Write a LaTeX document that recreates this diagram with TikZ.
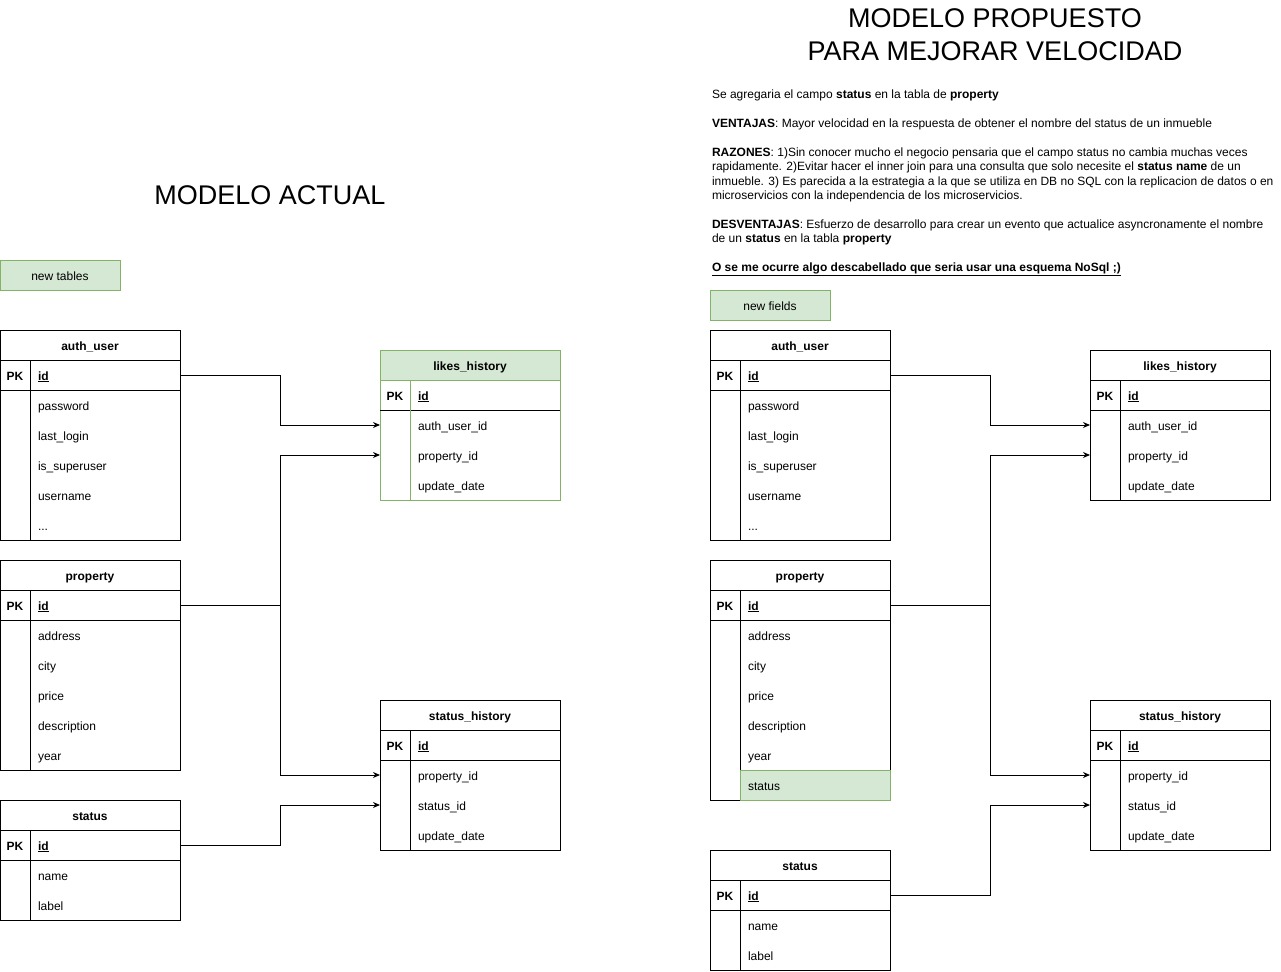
\documentclass[tikz,border=0pt]{standalone}
\usepackage{fontspec}
\setmainfont{Liberation Sans}
\usepackage{xcolor}
\usepackage{tikz}
\usetikzlibrary{positioning, arrows.meta, calc}
\definecolor{palegreen}{HTML}{D5E8D4}
\definecolor{sagegreen}{HTML}{82B366}
\newcommand{\erfont}{\fontsize{12}{14.4}\selectfont}
% table: [style]{name}{x}{y}{title}{fields}
\newcommand{\ertable}[6][]{%
  \begin{scope}[#1]
  \node[tablehead] (#2) at (#3,#4) {#5};
  \node[pkcell] (#2-pk) at (#2.south west) {PK};
  \node[fieldcell] (#2-id) at (#2-pk.north east) {\textbf{\underline{id}}};
  \foreach \f [count=\i] in {#6} {
    \node[fieldcell, #2-\i/.try] (#2-\i) at (#3+30,#4+30+30*\i) {\f};
    \xdef\lastrow{\i}
  }
  \draw[tableframe] (#2.north west) rectangle (#2-\lastrow.south east);
  \draw[tableframe] (#2.south west) -- (#2.south east);
  \draw (#2-pk.south west) -- (#2-id.south east);
  \draw[tableframe] (#2-pk.north east) -- (#2-\lastrow.south west);
  \end{scope}}

\begin{document}
\begin{tikzpicture}[x=1pt, y=-1pt, line width=1pt,
  every node/.style={outer sep=0pt, font=\erfont},
  tablehead/.style={anchor=north west, minimum width=180pt, minimum height=30pt, inner sep=0pt, text height=11pt, text depth=1pt, font=\erfont\bfseries},
  pkcell/.style={anchor=north west, minimum width=30pt, minimum height=30pt, inner sep=0pt, text height=11pt, text depth=1pt, font=\erfont\bfseries},
  fieldcell/.style={anchor=north west, minimum height=30pt, text width=134pt, inner xsep=8pt, inner ysep=0pt, align=left, text height=11pt, text depth=1pt},
  tableframe/.style={draw=black},
  newtable/.style={tablehead/.append style={fill=palegreen}, tableframe/.append style={draw=sagegreen}},
  newbox/.style={draw=sagegreen, fill=palegreen, minimum width=120pt, minimum height=30pt, anchor=north west, inner sep=0pt, text height=11pt, text depth=1pt},
  fk/.style={-{Stealth[length=7pt, width=6pt]}},
  title/.style={font=\fontsize{27}{33}\selectfont},
  propB-6/.style={fill=palegreen}]
\useasboundingbox (0,0) rectangle (1281,971);

% modelo actual
\node[title] (actual) at (270,195) {MODELO ACTUAL};
\node[newbox] (newtables) at (0,260) {new tables};

\ertable{au}{0}{330}{auth\_user}{password, last\_login, is\_superuser, username, ..{}.}
\ertable{prop}{0}{560}{property}{address, city, price, description, year}
\ertable{stat}{0}{800}{status}{name, label}
\ertable[newtable]{likes}{380}{350}{likes\_history}{auth\_user\_id, property\_id, update\_date}
\ertable{hist}{380}{700}{status\_history}{property\_id, status\_id, update\_date}

\draw[fk] (au-id.east) -- ++(100,0) |- (likes-1.west -| likes.west);
\draw[fk] (prop-id.east) -- ++(100,0) |- (likes-2.west -| likes.west);
\draw[fk] (prop-id.east) -- ++(100,0) |- (hist-1.west -| hist.west);
\draw[fk] (stat-id.east) -- ++(100,0) |- (hist-2.west -| hist.west);

% modelo propuesto
\node[title, align=center] (propuesto) at (995,35) {MODELO PROPUESTO\\PARA MEJORAR VELOCIDAD};
\node[anchor=north west, inner sep=0pt, align=left] (notes) at (712,90) {%
Se agregaria el campo \textbf{status} en la tabla de \textbf{property}\\[14.4pt]
\textbf{VENTAJAS}: Mayor velocidad en la respuesta de obtener el nombre del status de un inmueble\\[14.4pt]
\textbf{RAZONES}: 1)Sin conocer mucho el negocio pensaria que el campo status no cambia muchas veces\\
rapidamente. 2)Evitar hacer el inner join para una consulta que solo necesite el \textbf{status name} de un\\
inmueble. 3) Es parecida a la estrategia a la que se utiliza en DB no SQL con la replicacion de datos o en\\
microservicios con la independencia de los microservicios.\\[14.4pt]
\textbf{DESVENTAJAS}: Esfuerzo de desarrollo para crear un evento que actualice asyncronamente el nombre\\
de un \textbf{status} en la tabla \textbf{property}\\[14.4pt]
\textbf{\underline{O se me ocurre algo descabellado que seria usar una esquema NoSql ;)}}};
\node[newbox] (newfields) at (710,290) {new fields};

\ertable{auB}{710}{330}{auth\_user}{password, last\_login, is\_superuser, username, ..{}.}
\ertable{propB}{710}{560}{property}{address, city, price, description, year, status}
\draw[sagegreen] (propB-6.north west) rectangle (propB-6.south east);
\ertable{statB}{710}{850}{status}{name, label}
\ertable{likesB}{1090}{350}{likes\_history}{auth\_user\_id, property\_id, update\_date}
\ertable{histB}{1090}{700}{status\_history}{property\_id, status\_id, update\_date}

\draw[fk] (auB-id.east) -- ++(100,0) |- (likesB-1.west -| likesB.west);
\draw[fk] (propB-id.east) -- ++(100,0) |- (likesB-2.west -| likesB.west);
\draw[fk] (propB-id.east) -- ++(100,0) |- (histB-1.west -| histB.west);
\draw[fk] (statB-id.east) -- ++(100,0) |- (histB-2.west -| histB.west);
\end{tikzpicture}
\end{document}
